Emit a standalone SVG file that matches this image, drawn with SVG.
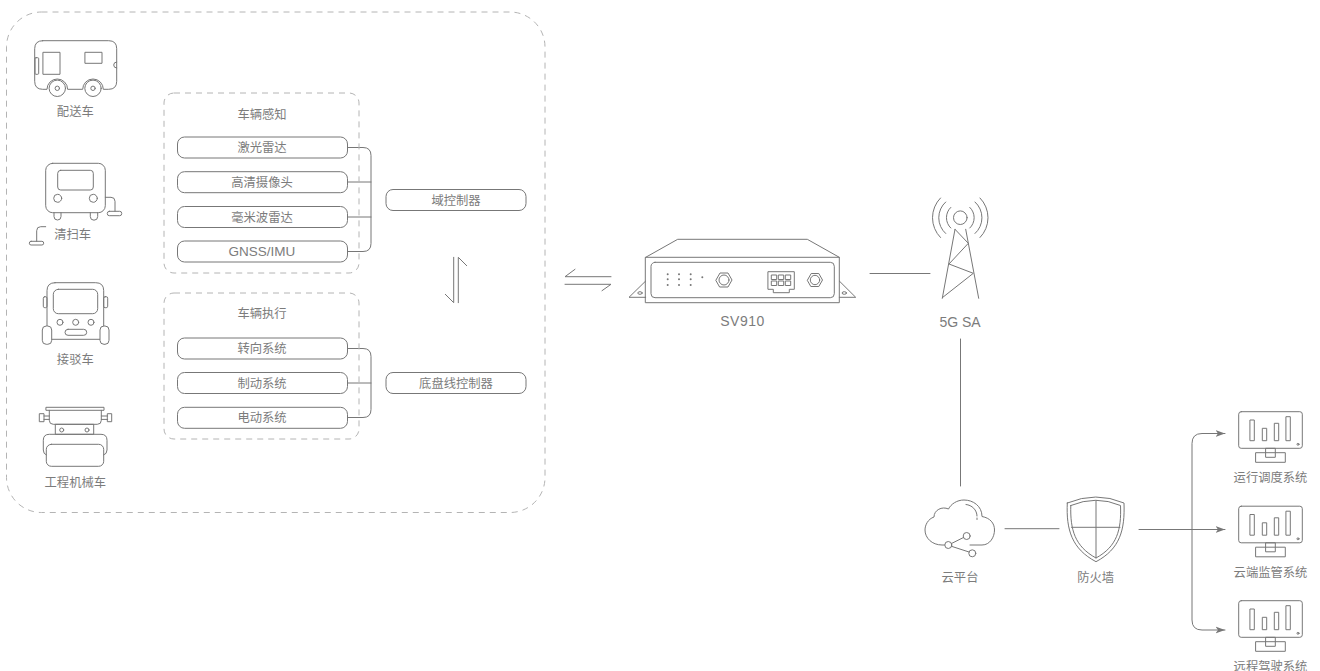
<svg xmlns="http://www.w3.org/2000/svg" width="1320" height="671" viewBox="0 0 1320 671">
<style>
.l{fill:none;stroke:#777;stroke-width:1;stroke-linejoin:round;stroke-linecap:round}
.b{fill:#fff;stroke:#777;stroke-width:1}
.d{fill:none;stroke:#b4b4b4;stroke-width:1;stroke-dasharray:6 5}
.f{fill:#777;stroke:none}
text{font-family:"Liberation Sans","Noto Sans CJK SC",sans-serif;font-size:12.3px;fill:#7c7c7c;text-anchor:middle}
.en{font-size:13.5px}
</style>
<defs>
<marker id="ah" viewBox="0 0 10 8" refX="9.5" refY="4" markerWidth="10" markerHeight="8" markerUnits="userSpaceOnUse" orient="auto"><path d="M0 0.5L9.5 4L0 7.5L2.5 4Z" fill="#777"/></marker>
<g id="mon">
<rect class="l" x="1238.7" y="411.7" width="63.6" height="36.6" rx="2.5"/>
<rect class="l" x="1250.3" y="420" width="4" height="20.7"/>
<rect class="l" x="1262.7" y="428.3" width="4" height="12.4"/>
<rect class="l" x="1274.7" y="423.3" width="4" height="17.4"/>
<rect class="l" x="1286.3" y="416.7" width="4" height="24"/>
<circle class="l" cx="1298" cy="444.3" r="1"/>
<rect class="l" x="1256" y="452.7" width="29.3" height="9.6"/>
<rect class="l" x="1266" y="448.3" width="9.3" height="9"/>
</g>
</defs>
<g id="frame"><rect class="d" x="6.5" y="12" width="538.5" height="500.5" rx="35"/></g>
<g id="connectors">
<path class="l" d="M347.5 147.5H363Q371 147.5 371 155.5V243.5Q371 251.5 363 251.5H347.5M347.5 182H371M347.5 217H371"/>
<path class="l" d="M347.5 348.5H363Q371 348.5 371 356.5V409.5Q371 417.5 363 417.5H347.5M347.5 383H371"/>
<path class="l" d="M458.3 302.7V257.3L466.7 265.7M453.7 257.3V302.7L445.3 294.3"/>
<path class="l" d="M611 276.7H565L575 269.3M565 284.3H611L602 290.7"/>
<path class="l" d="M870 273.5H930M960.5 339V486M1005 528.7H1059"/>
<path class="l" d="M1139 529.5H1225" marker-end="url(#ah)"/>
<path class="l" d="M1192 529.5V443.5Q1192 433.5 1202 433.5H1225" marker-end="url(#ah)"/>
<path class="l" d="M1192 529.5V620Q1192 630 1202 630H1225" marker-end="url(#ah)"/>
</g>
<g id="v1">
<path class="l" d="M42.7 40.7H108.7Q116.7 40.7 116.7 48.7V81.3Q116.7 89.3 108.700 89.3H103.3A10.3 10.3 0 0 0 82.7 89.3H67.6A10.3 10.3 0 0 0 47 89.3H42.7Q34.7 89.3 34.7 81.3V48.7Q34.7 40.7 42.7 40.7Z"/>
<rect class="l" x="43.3" y="52.3" width="16.7" height="22"/><rect class="l" x="85.3" y="52.3" width="16.7" height="11"/>
<rect class="l" x="35" y="57.7" width="3.7" height="16.6" rx="1"/><path class="l" d="M116.7 62A3 3 0 0 0 116.7 68"/>
<circle class="l" cx="57.3" cy="88.3" r="8.2"/><circle class="l" cx="57.3" cy="88.3" r="2.2"/><circle class="l" cx="93" cy="88.3" r="8.2"/><circle class="l" cx="93" cy="88.3" r="2.2"/>
<text x="75.3" y="115.5">配送车</text>
</g>
<g id="v2">
<rect class="l" x="45.7" y="163.3" width="59.6" height="49.4" rx="7"/>
<rect class="l" x="57.7" y="170.3" width="35.6" height="19.7" rx="3"/>
<circle class="l" cx="57.7" cy="198.3" r="4"/><circle class="l" cx="93.3" cy="198.3" r="4"/>
<path class="l" d="M54 212.7V216.5A3.5 3.5 0 0 0 61 216.5V212.7M90.3 212.7V216.5A3.7 3.7 0 0 0 97.7 216.5V212.7"/>
<path class="l" d="M105.3 197.3H111Q115 197.3 115 201.3V211.3M45.7 226.7H40.7Q36.7 226.7 36.7 230.7V241.3"/>
<rect class="l" x="107.3" y="211.3" width="14.4" height="4.4" rx="2"/><rect class="l" x="29.3" y="241.3" width="14.4" height="3.7" rx="1.8"/>
<text x="72.7" y="238.5">清扫车</text>
</g>
<g id="v3">
<path class="l" d="M55 282.7H95.7Q103.7 282.7 103.7 290.7V339.3H47V290.7Q47 282.7 55 282.7Z"/>
<rect class="l" x="53.3" y="289.3" width="44.4" height="24.4" rx="5"/>
<circle class="l" cx="60" cy="322.3" r="3"/><circle class="l" cx="75.7" cy="322.3" r="3"/><circle class="l" cx="91" cy="322.3" r="3"/>
<rect class="l" x="65" y="329.3" width="21.7" height="6" rx="3"/>
<rect class="l" x="43.3" y="296.7" width="3.7" height="11" rx="1.5"/><rect class="l" x="103.7" y="296.7" width="4" height="11" rx="1.5"/>
<rect class="b" x="42.3" y="326" width="9.4" height="18.3" rx="4"/><rect class="b" x="100" y="326" width="9" height="18.3" rx="4"/>
<text x="75.3" y="364">接驳车</text>
</g>
<g id="v4">
<rect class="l" x="46.3" y="407.3" width="57.7" height="3"/>
<path class="l" d="M49.3 410.3V420.3Q49.3 424.3 53.3 424.3H97.3Q101.3 424.3 101.3 420.3V410.3"/>
<rect class="l" x="39.7" y="413.7" width="4.3" height="8"/><rect class="l" x="107.7" y="413.7" width="4" height="8"/>
<path class="l" d="M44 416H49.3M44 419.4H49.3M101.3 416H107.7M101.3 419.4H107.7"/>
<rect class="l" x="55.7" y="424.3" width="38" height="10"/><circle class="l" cx="61.7" cy="430" r="2"/><circle class="l" cx="87" cy="430" r="2"/>
<path class="l" d="M46.3 455Q43.3 454 43.3 450V440.3Q43.3 434.3 49.3 434.3H101Q107 434.3 107 440.3V450Q107 454 103.7 455"/>
<rect class="l" x="46.3" y="444.3" width="57.4" height="22" rx="5"/>
<text x="75.3" y="486.5">工程机械车</text>
</g>
<g id="group-sense">
<rect class="d" x="164" y="93" width="195" height="180" rx="10"/>
<text x="262" y="118.5">车辆感知</text>
</g>
<g id="n-lidar"><rect class="b" x="177.500" y="137" width="170" height="21" rx="7"/><text x="262" y="152">激光雷达</text></g>
<g id="n-cam"><rect class="b" x="177.500" y="171.7" width="170" height="21" rx="7"/><text x="262" y="186.7">高清摄像头</text></g>
<g id="n-radar"><rect class="b" x="177.500" y="206.5" width="170" height="21" rx="7"/><text x="262" y="221.5">毫米波雷达</text></g>
<g id="n-gnss"><rect class="b" x="177.500" y="241" width="170" height="21" rx="7"/><text class="en" x="262" y="256.3">GNSS/IMU</text></g>
<g id="n-domain"><rect class="b" x="386" y="189.5" width="140" height="21" rx="7"/><text x="456" y="204.5">域控制器</text></g>
<g id="group-exec">
<rect class="d" x="164" y="293" width="195" height="146" rx="10"/>
<text x="262" y="318">车辆执行</text>
</g>
<g id="n-steer"><rect class="b" x="177.500" y="338" width="170" height="21" rx="7"/><text x="262" y="353">转向系统</text></g>
<g id="n-brake"><rect class="b" x="177.500" y="372.5" width="170" height="21" rx="7"/><text x="262" y="387.5">制动系统</text></g>
<g id="n-power"><rect class="b" x="177.500" y="407.3" width="170" height="21" rx="7"/><text x="262" y="422.3">电动系统</text></g>
<g id="n-chassis"><rect class="b" x="386" y="372.5" width="140" height="21" rx="7"/><text x="456" y="387.5">底盘线控制器</text></g>
<g id="sv910">
<path class="l" d="M645.7 257.3L677.7 239.3H807.3L839.3 257.3"/>
<rect class="l" x="645.7" y="257.3" width="193.6" height="45.4"/>
<rect class="l" x="651" y="262.3" width="183.3" height="35.4" rx="4"/>
<path class="l" d="M645.7 281L629 297.3H645.7M839.3 281L855.7 297.3H839.3"/>
<ellipse class="l" cx="640" cy="293" rx="2.2" ry="1.3"/><ellipse class="l" cx="844.3" cy="293" rx="2.2" ry="1.3"/>
<g class="f"><circle cx="667.7" cy="274.3" r="1"/><circle cx="667.7" cy="279.3" r="1"/><circle cx="667.7" cy="285" r="1"/><circle cx="679" cy="274.3" r="1"/><circle cx="679" cy="279.3" r="1"/><circle cx="679" cy="285" r="1"/><circle cx="690.7" cy="274.3" r="1"/><circle cx="690.7" cy="279.3" r="1"/><circle cx="690.7" cy="285" r="1"/><circle cx="702.3" cy="277.3" r="1"/></g>
<path class="l" d="M716 280L720 273H728L732 280L728 287H720Z"/><circle class="l" cx="724" cy="280" r="5"/>
<path class="l" d="M807.5 280L811.2 273.5H818.8L822.5 280L818.8 286.5H811.2Z"/><circle class="l" cx="815" cy="280" r="4.7"/>
<path class="l" d="M768.3 271.7H794.3V289.3H789.3V292.7H773.3V289.3H768.3Z"/>
<rect class="l" x="771.7" y="275" width="5" height="4.5"/><rect class="l" x="778.7" y="275" width="5" height="4.5"/><rect class="l" x="785.7" y="275" width="5" height="4.5"/>
<rect class="l" x="771.7" y="281" width="5" height="4.5"/><rect class="l" x="778.7" y="281" width="5" height="4.5"/><rect class="l" x="785.7" y="281" width="5" height="4.5"/>
<text x="742.500" y="326" style="font-size:14px;letter-spacing:.5px">SV910</text>
</g>
<g id="tower">
<circle class="l" cx="960.3" cy="217.7" r="6.8"/>
<path class="l" d="M955 229.3L942.3 298.3M965.7 229.3L978.7 298.3M955 229.3L968.3 243.3L949 264L973.3 273.3L942.3 297.7"/>
<path class="l" d="M950.8 228A14 14 0 0 1 950.8 207.4M969.8 207.4A14 14 0 0 1 969.8 228M945.7 233.5A21 21 0 0 1 945.7 202M975 202A21 21 0 0 1 975 233.5M940.500 237.5A28 28 0 0 1 940.500 198M980 198A28 28 0 0 1 980 237.5"/>
<text x="960" y="327" style="font-size:14px">5G SA</text>
</g>
<g id="cloud">
<path class="l" d="M970 545H982C990 545 994.5 537 994.5 530C994.5 523 990 518 982 516.5C982 506 973 500 964 500C957 500 951 504 948.5 509C942 506 934 510 934 517C928 519 925 525 925 530C925 538 932 545 942 545H944.5"/>
<path class="l" d="M966 504.5C972 505 977 510 977 516M977 518V519.5"/>
<circle class="l" cx="948.3" cy="545" r="3.5"/><circle class="l" cx="966.7" cy="536" r="3.5"/><circle class="l" cx="972.3" cy="553.3" r="3.5"/>
<path class="l" d="M951.5 543.5L963.5 537.5M951.5 546.3L969 552"/>
<text x="960" y="582">云平台</text>
</g>
<g id="firewall">
<path class="l" d="M1067.3 503Q1096 491 1124 503C1125 530 1120 549 1096 561.7C1072 549 1066 530 1067.3 503Z"/>
<path class="l" d="M1070.8 505.5Q1096 495 1120.5 505.5C1121.5 530 1117 546.5 1096 558C1075 546.5 1070 530 1070.8 505.5Z"/>
<path class="l" d="M1096 500.5V558M1071.5 527.3H1120"/>
<text x="1095.7" y="582">防火墙</text>
</g>
<g id="m1"><use href="#mon"/><text x="1270.5" y="482">运行调度系统</text></g>
<g id="m2"><use href="#mon" y="94.5"/><text x="1270.5" y="577">云端监管系统</text></g>
<g id="m3"><use href="#mon" y="189"/><text x="1270.5" y="670.5">远程驾驶系统</text></g>
</svg>
